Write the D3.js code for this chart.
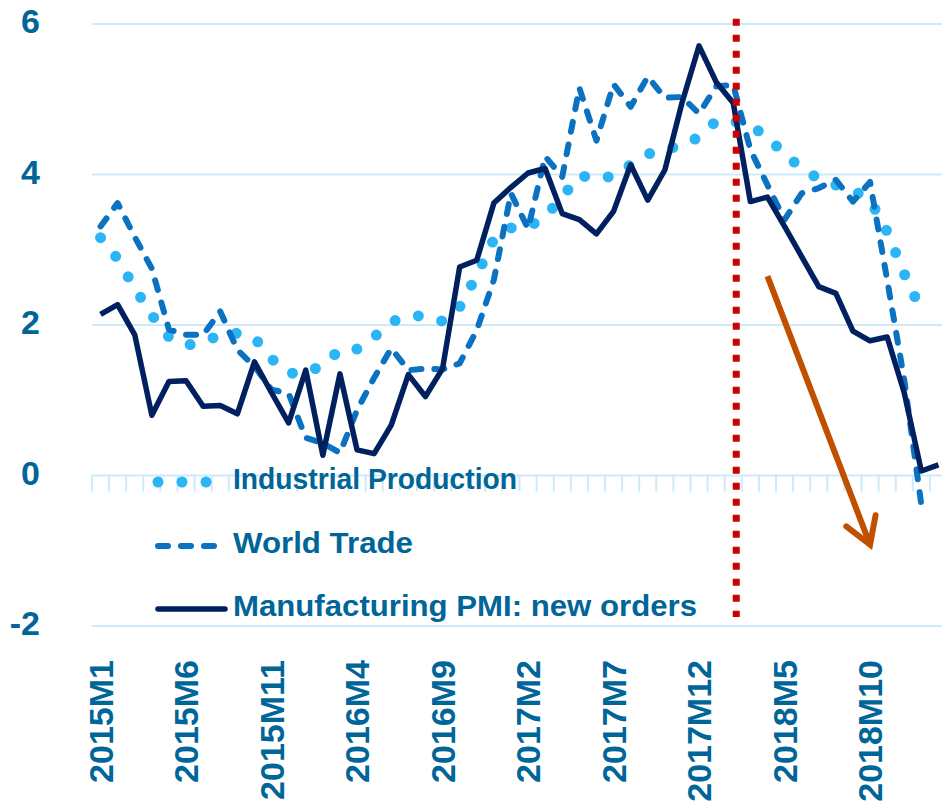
<!DOCTYPE html>
<html>
<head>
<meta charset="utf-8">
<script src="https://cdn.jsdelivr.net/npm/d3@7"></script>
<style>
  body { margin: 0; background: #fff; }
  svg { display: block; font-family: "Liberation Sans", Arial, sans-serif; }
</style>
</head>
<body>
<div id="chart"></div>
<script>
// ------ Data ------ //
const months = [
  "2015M1","2015M2","2015M3","2015M4","2015M5","2015M6","2015M7","2015M8","2015M9","2015M10","2015M11","2015M12",
  "2016M1","2016M2","2016M3","2016M4","2016M5","2016M6","2016M7","2016M8","2016M9","2016M10","2016M11","2016M12",
  "2017M1","2017M2","2017M3","2017M4","2017M5","2017M6","2017M7","2017M8","2017M9","2017M10","2017M11","2017M12",
  "2018M1","2018M2","2018M3","2018M4","2018M5","2018M6","2018M7","2018M8","2018M9","2018M10","2018M11","2018M12",
  "2019M1","2019M2"
];

const industrialProduction = [
  3.16, 2.88, 2.49, 2.13, 1.84, 1.73, 1.77, 1.87, 1.89, 1.83, 1.55, 1.36,
  1.36, 1.47, 1.67, 1.68, 1.84, 2.04, 2.12, 2.12, 2.05, 2.24, 2.66, 3.14,
  3.29, 3.30, 3.44, 3.70, 3.99, 3.94, 3.98, 4.13, 4.27, 4.34, 4.38, 4.50,
  4.71, 4.71, 4.64, 4.51, 4.26, 4.09, 3.94, 3.86, 3.79, 3.66, 3.24, 2.68,
  2.19, null
];

const worldTrade = [
  3.31, 3.62, 3.17, 2.75, 1.94, 1.87, 1.87, 2.18, 1.67, 1.45, 1.14, 1.09,
  0.50, 0.43, 0.30, 0.87, 1.30, 1.69, 1.40, 1.42, 1.41, 1.49, 1.93, 2.60,
  3.75, 3.28, 4.24, 3.97, 5.15, 4.45, 5.20, 4.90, 5.30, 5.02, 5.03, 4.81,
  5.17, 5.19, 4.33, 3.86, 3.40, 3.75, 3.82, 3.93, 3.64, 3.90, 2.60, 1.27,
  -0.39, null
];

const pmiNewOrders = [
  2.14, 2.27, 1.87, 0.80, 1.25, 1.26, 0.92, 0.93, 0.82, 1.51, 1.10, 0.70,
  1.40, 0.27, 1.35, 0.34, 0.29, 0.67, 1.34, 1.05, 1.42, 2.77, 2.86, 3.62,
  3.83, 4.02, 4.08, 3.48, 3.40, 3.21, 3.51, 4.13, 3.66, 4.06, 4.95, 5.71,
  5.23, 4.95, 3.64, 3.70, 3.31, 2.91, 2.51, 2.42, 1.92, 1.79, 1.84, 1.10,
  0.06, 0.14
];

const xTickLabels = ["2015M1","2015M6","2015M11","2016M4","2016M9","2017M2","2017M7","2017M12","2018M5","2018M10"];
const yTicks = [-2, 0, 2, 4, 6];

const seriesNames = ["Industrial Production", "World Trade", "Manufacturing PMI: new orders"];

// annotations
const markerMonth = "2018M2";
const markerRange = [6.07, -1.88];
const arrowFrom = ["2018M4", 2.65];
const arrowTo = ["2018M10", -0.92];

// ------ Drawing area ------ //
const width = 942;
const height = 803;
const margin = { left: 92, right: -5, top: 24, bottom: 177 };

const textColor = "#006598";
const gridColor = "#cdeafb";

const svg = d3.select("#chart")
  .append("svg")
    .attr("width", width)
    .attr("height", height);

const x = d3.scaleBand()
  .domain(months)
  .range([margin.left, width - margin.right])
  .padding(0);
const xc = d => x(d) + x.bandwidth() / 2;

const y = d3.scaleLinear()
  .domain([-2, 6])
  .range([height - margin.bottom, margin.top]);

// gridlines
svg.append("g")
  .selectAll("line")
  .data(yTicks)
  .join("line")
    .attr("x1", margin.left)
    .attr("x2", width)
    .attr("y1", d => y(d))
    .attr("y2", d => y(d))
    .attr("stroke", gridColor)
    .attr("stroke-width", 2);

// category ticks on the zero line
svg.append("g")
  .selectAll("line")
  .data(months)
  .join("line")
    .attr("x1", d => x(d))
    .attr("x2", d => x(d))
    .attr("y1", y(0))
    .attr("y2", y(0) + 16)
    .attr("stroke", gridColor)
    .attr("stroke-width", 2);

// y labels
svg.append("g")
  .selectAll("text")
  .data(yTicks)
  .join("text")
    .attr("x", 40)
    .attr("y", d => y(d) - 3)
    .attr("text-anchor", "end")
    .attr("dominant-baseline", "central")
    .attr("font-size", 34)
    .attr("font-weight", "bold")
    .attr("fill", textColor)
    .text(d => d);

// x labels
svg.append("g")
  .selectAll("text")
  .data(xTickLabels)
  .join("text")
    .attr("transform", d => `translate(${xc(d)}, 660) rotate(-90)`)
    .attr("text-anchor", "end")
    .attr("dominant-baseline", "central")
    .attr("font-size", 34)
    .attr("font-weight", "bold")
    .attr("fill", textColor)
    .text(d => d);

// ------ Lines ------ //
const lineGen = d3.line()
  .defined(d => d.v !== null)
  .x(d => xc(d.m))
  .y(d => y(d.v));

const toPoints = values => months.map((m, i) => ({ m: m, v: values[i] }));

const styles = [
  { values: industrialProduction, color: "#2cb5f6", width: 11, dash: "0 24", cap: "round" },
  { values: worldTrade, color: "#0a72c1", width: 6, dash: "10 13", cap: "round" },
  { values: pmiNewOrders, color: "#002060", width: 5.5, dash: null, cap: "butt" }
];

styles.forEach(s => {
  svg.append("path")
    .attr("d", lineGen(toPoints(s.values)))
    .attr("fill", "none")
    .attr("stroke", s.color)
    .attr("stroke-width", s.width)
    .attr("stroke-dasharray", s.dash)
    .attr("stroke-linecap", s.cap)
    .attr("stroke-linejoin", "round");
});

// red dotted marker
svg.append("line")
  .attr("x1", xc(markerMonth) + 3)
  .attr("x2", xc(markerMonth) + 3)
  .attr("y1", y(markerRange[0]))
  .attr("y2", y(markerRange[1]))
  .attr("stroke", "#cc0000")
  .attr("stroke-width", 7)
  .attr("stroke-dasharray", "7 9");

// orange arrow
const ax1 = xc(arrowFrom[0]), ay1 = y(arrowFrom[1]);
const ax2 = xc(arrowTo[0]), ay2 = y(arrowTo[1]);
const ang = Math.atan2(ay2 - ay1, ax2 - ax1);
const headLen = 30, headAng = 0.55;
svg.append("line")
  .attr("x1", ax1).attr("y1", ay1)
  .attr("x2", ax2 - 3 * Math.cos(ang)).attr("y2", ay2 - 3 * Math.sin(ang))
  .attr("stroke", "#c05000")
  .attr("stroke-width", 6);
svg.append("path")
  .attr("d", d3.line()([
    [ax2 - headLen * Math.cos(ang - headAng), ay2 - headLen * Math.sin(ang - headAng)],
    [ax2, ay2],
    [ax2 - headLen * Math.cos(ang + headAng), ay2 - headLen * Math.sin(ang + headAng)]
  ]))
  .attr("fill", "none")
  .attr("stroke", "#c05000")
  .attr("stroke-width", 6)
  .attr("stroke-linecap", "round")
  .attr("stroke-linejoin", "miter");

// ------ Legend ------ //
const legendY = [482, 546, 609];
const legendWidths = [284, 180, 464];
const legend = svg.append("g");
styles.forEach((s, i) => {
  legend.append("line")
    .attr("x1", 158)
    .attr("x2", i === 0 ? 207 : (i === 1 ? 215 : 225))
    .attr("y1", legendY[i])
    .attr("y2", legendY[i])
    .attr("stroke", s.color)
    .attr("stroke-width", s.width)
    .attr("stroke-dasharray", s.dash)
    .attr("stroke-linecap", "round");
  legend.append("text")
    .attr("x", 233)
    .attr("y", legendY[i] + 7)
    .attr("font-size", 29)
    .attr("font-weight", "bold")
    .attr("fill", textColor)
    .attr("textLength", legendWidths[i])
    .attr("lengthAdjust", "spacingAndGlyphs")
    .text(seriesNames[i]);
});
</script>
</body>
</html>
